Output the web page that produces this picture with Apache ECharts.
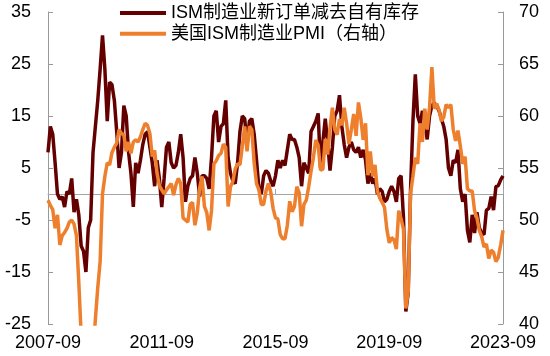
<!DOCTYPE html>
<html><head><meta charset="utf-8">
<script src="https://cdn.jsdelivr.net/npm/echarts@6/dist/echarts.min.js"></script>
<style>html,body{margin:0;padding:0;background:#fff}#c{width:550px;height:356px}</style>
</head><body><div id="c"></div>
<script>
const startYear = 2007, startMonth = 9, monthCount = 193;
const months = [];
for (let k = 0; k < monthCount; k++) {
  const m = startMonth - 1 + k;
  const y = startYear + Math.floor(m / 12);
  const mm = (m % 12) + 1;
  months.push(y + '-' + (mm < 10 ? '0' + mm : '' + mm));
}
const seriesNames = ['ISM制造业新订单减去自有库存', '美国ISM制造业PMI（右轴）'];
const leftAxisTicks = [-25, -15, -5, 5, 15, 25, 35];
const rightAxisTicks = [40, 45, 50, 55, 60, 65, 70];

const newOrdersMinusInventories = [
  8, 13, 11.5, 6, 0, -1, -0.5, -2.5, 0.5, 0, 3, -3.5,
  -1, -4, -10, -11, -15, -6.5, -5, 8, 13, 18, 24, 30.5,
  24, 14, 21.5, 21, 18, 12, 5, 8, 17, 15, 8, 4,
  -2.5, 6, 4, 6.5, 9.5, 11.5, 12, 9, 6, 1.5, 6.5, 3,
  -2.5, 3, 9, 10, 6, 5, 5.5, 8, 11.5, 7, -1.5, 1.5,
  3, 3.5, 7, 4, -0.5, 3.5, 3.5, 3, 1, 7, 15, 16,
  10, 13, 13.5, 18, 7, 4, 2.5, 2, 6, 12, 15, 14.5,
  9.5, 14, 14.5, 11.5, 6.5, 1, 0, 3.5, 4.5, 4, 2.5, 1.5,
  3.5, 6.5, 5, 6.5, 5.5, 8.5, 11.5, 10.5, 10.5, 9, 7, 1.5,
  6, 5, 4, 12, 13, 14, 15.5, 5, 10, 14.5, 10, 4.5,
  9, 15, 16, 19, 13, 9.5, 7, 9, 10, 8.5, 8, 9,
  7, 8.5, 6.5, 2, 4, 2, 3, 0, 1, 0.5, -1.5, -1,
  0.5, 1.5, 0.5, -1.5, 3, 3.5, -4.5, -22.6, -19, 1, 14, 23,
  15, 13.5, 16, 14, 10.5, 15, 17, 17.5, 17, 16, 14.5, 13,
  10.5, 5, 3.5, 6.5, 6, 8.5, 1, -1.5, 0, -7, -9.3, -4,
  -7.5, -3.5, -6.5, -7.5, -7.8, -3.1, -2.8, -0.5, -3.1, 1.4, 1.6, 2.7,
  3.5
];
const ismPmi = [
  51.9, 51.4, 51, 49.2, 50.5, 47.6, 48.5, 48.8, 49.2, 49.8, 50, 49.6,
  48.5, 44, 38.9, 36, 33, 35.6, 35.8, 37, 40.5, 43.5, 46, 52.5,
  54.2, 55.5, 55.3, 56.5, 57, 57.4, 58.7, 58.3, 58.2, 56.6, 57.5, 56.4,
  57.5, 57.7, 57.5, 58, 58.7, 59.3, 59.1, 58.3, 56.1, 56.7, 54.5, 53.3,
  52.9, 52.5, 52.9, 53.2, 53.5, 52.4, 53.4, 54, 53.5, 50.2, 50, 49.8,
  51.5, 51.7, 49.5, 50.7, 53.1, 54.2, 51.3, 50.7, 49, 50.9, 55.4, 55.7,
  56.2, 56.4, 57.3, 57, 51.3, 53.2, 53.7, 54.9, 55.4, 55.3, 57.1, 59,
  56.6, 59, 58.7, 55.5, 53.5, 52.9, 51.5, 51.5, 52.8, 53.5, 52.7, 51.1,
  50.2, 50.1, 48.6, 48.2, 48.2, 49.5, 51.8, 50.8, 51.3, 53.2, 52.6, 49.4,
  51.5, 51.9, 53.2, 54.7, 56, 57.7, 57.2, 54.8, 54.9, 57.8, 56.3, 58.8,
  60.8, 58.7, 58.2, 59.7, 59.1, 60.8, 59.3, 57.3, 58.7, 60.2, 58.1, 61.3,
  59.8, 57.7, 59.3, 54.3, 56.6, 54.2, 55.3, 52.8, 52.1, 51.7, 51.2, 49.1,
  47.8, 48.3, 48.1, 47.2, 50.9, 50.1, 49.1, 41.5, 43.1, 52.6, 54.2, 56,
  55.4, 59.3, 57.5, 60.7, 58.7, 60.8, 64.7, 60.7, 61.2, 60.6, 59.5, 59.9,
  61.1, 60.8, 61.1, 58.7, 57.6, 58.6, 57.1, 55.4, 56.1, 53, 52.8, 52.8,
  50.9, 50.2, 49, 48.4, 47.4, 47.7, 46.3, 47.1, 46.9, 46, 46.4, 47.6,
  49
];

const FONT = "'Liberation Sans','Noto Sans CJK SC',Arial,sans-serif";
const AXIS_GRAY = '#999999';
const DARK = '#640000', ORANGE = '#EE7F2D';
const chart = echarts.init(document.getElementById('c'), null, {renderer: 'canvas'});
chart.setOption({
  animation: false,
  backgroundColor: '#ffffff',
  textStyle: {fontFamily: FONT},
  grid: {left: 48, right: 47, top: 12, bottom: 32, containLabel: false},
  legend: {
    orient: 'vertical', left: 120, top: 4, padding: 0,
    icon: 'rect', itemWidth: 46, itemHeight: 4, itemGap: 2.7,
    textStyle: {fontSize: 18, color: '#000', fontFamily: FONT, lineHeight: 18},
    data: [
      {name: seriesNames[0], itemStyle: {color: DARK}},
      {name: seriesNames[1], itemStyle: {color: ORANGE}}
    ]
  },
  xAxis: [
    {
      type: 'category', data: months, boundaryGap: false, position: 'bottom',
      axisLine: {show: false, onZero: false},
      axisTick: {show: false},
      axisLabel: {interval: 47, fontSize: 18, color: '#000', margin: 10, fontFamily: FONT},
      splitLine: {show: false}
    },
    {
      type: 'category', data: months, boundaryGap: false, position: 'bottom',
      axisLine: {show: true, onZero: true, onZeroAxisIndex: 0, lineStyle: {color: '#A6A6A6', width: 1}},
      axisTick: {show: true, inside: true, interval: 47, length: 5, lineStyle: {color: '#A6A6A6'}},
      axisLabel: {show: false},
      splitLine: {show: false}
    }
  ],
  yAxis: [
    {
      type: 'value', min: leftAxisTicks[0], max: leftAxisTicks[leftAxisTicks.length - 1], interval: 10,
      axisLine: {show: true, lineStyle: {color: AXIS_GRAY}},
      axisTick: {show: true, inside: true, length: 5, lineStyle: {color: AXIS_GRAY}},
      axisLabel: {fontSize: 18, color: '#000', margin: 17, fontFamily: FONT},
      splitLine: {show: false}
    },
    {
      type: 'value', min: rightAxisTicks[0], max: rightAxisTicks[rightAxisTicks.length - 1], interval: 5,
      axisLine: {show: true, lineStyle: {color: AXIS_GRAY}},
      axisTick: {show: true, inside: true, length: 5, lineStyle: {color: AXIS_GRAY}},
      axisLabel: {fontSize: 18, color: '#000', margin: 16, fontFamily: FONT},
      splitLine: {show: false}
    }
  ],
  series: [
    {
      name: seriesNames[0], type: 'line', xAxisIndex: 0, yAxisIndex: 0,
      data: newOrdersMinusInventories, symbol: 'none', showSymbol: false,
      lineStyle: {width: 3.5, color: DARK}, itemStyle: {color: DARK}
    },
    {
      name: seriesNames[1], type: 'line', xAxisIndex: 0, yAxisIndex: 1,
      data: ismPmi, symbol: 'none', showSymbol: false, clip: true,
      lineStyle: {width: 3.5, color: ORANGE}, itemStyle: {color: ORANGE}
    }
  ]
});
</script>
</body></html>
